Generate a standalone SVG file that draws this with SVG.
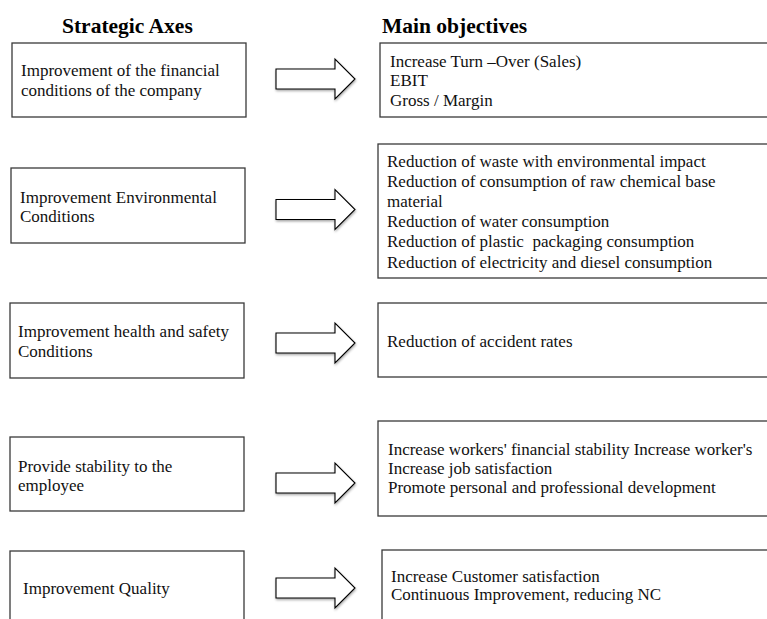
<svg xmlns="http://www.w3.org/2000/svg" width="767" height="619" viewBox="0 0 767 619">
<style>
  .box { fill: #ffffff; stroke: #3a3a3a; stroke-width: 1.3; }
  .t { font-family: "Liberation Serif", "Times New Roman", serif; font-size: 17px; fill: #111; }
  .h { font-family: "Liberation Serif", "Times New Roman", serif; font-size: 21.5px; font-weight: bold; fill: #000; }
  .arr { fill: #ffffff; stroke: #000; stroke-width: 1.1; stroke-linejoin: miter; }
</style>
<defs>
  <filter id="sh" x="-20%" y="-20%" width="140%" height="150%">
    <feDropShadow dx="0.5" dy="1.5" stdDeviation="1" flood-color="#000" flood-opacity="0.35"/>
  </filter>
  <polygon id="arrowShape" points="0,-10 59,-10 59,-20 79,0 59,20 59,10 0,10"/>
</defs>
<rect width="767" height="619" fill="#ffffff"/>

<g id="headers">
  <text class="h" x="62" y="33">Strategic Axes</text>
  <text class="h" x="382" y="33">Main objectives</text>
</g>

<g id="axis1">
  <rect class="box" x="12" y="43" width="234" height="74"/>
  <text class="t" x="21" y="76">Improvement of the financial</text>
  <text class="t" x="21" y="96">conditions of the company</text>
</g>
<g id="obj1">
  <rect class="box" x="380" y="43" width="400" height="74"/>
  <text class="t" x="390" y="67">Increase Turn –Over (Sales)</text>
  <text class="t" x="390" y="86">EBIT</text>
  <text class="t" x="390" y="106">Gross / Margin</text>
</g>

<g id="axis2">
  <rect class="box" x="11" y="168" width="234" height="75"/>
  <text class="t" x="20" y="203">Improvement Environmental</text>
  <text class="t" x="20" y="222">Conditions</text>
</g>
<g id="obj2">
  <rect class="box" x="378" y="144" width="400" height="134"/>
  <text class="t" x="387" y="167">Reduction of waste with environmental impact</text>
  <text class="t" x="387" y="187">Reduction of consumption of raw chemical base</text>
  <text class="t" x="387" y="207">material</text>
  <text class="t" x="387" y="227">Reduction of water consumption</text>
  <text class="t" x="387" y="247" xml:space="preserve">Reduction of plastic  packaging consumption</text>
  <text class="t" x="387" y="268">Reduction of electricity and diesel consumption</text>
</g>

<g id="axis3">
  <rect class="box" x="10" y="303" width="234" height="75"/>
  <text class="t" x="18" y="337">Improvement health and safety</text>
  <text class="t" x="18" y="357">Conditions</text>
</g>
<g id="obj3">
  <rect class="box" x="378" y="303" width="400" height="74"/>
  <text class="t" x="387" y="347">Reduction of accident rates</text>
</g>

<g id="axis4">
  <rect class="box" x="10" y="437" width="234" height="74"/>
  <text class="t" x="18" y="472">Provide stability to the</text>
  <text class="t" x="18" y="491">employee</text>
</g>
<g id="obj4">
  <rect class="box" x="378" y="421" width="400" height="95"/>
  <text class="t" x="388" y="455">Increase workers' financial stability Increase worker's</text>
  <text class="t" x="388" y="474">Increase job satisfaction</text>
  <text class="t" x="388" y="493">Promote personal and professional development</text>
</g>

<g id="axis5">
  <rect class="box" x="10" y="551" width="234" height="90"/>
  <text class="t" x="23" y="594">Improvement Quality</text>
</g>
<g id="obj5">
  <rect class="box" x="382" y="550" width="400" height="90"/>
  <text class="t" x="391" y="582">Increase Customer satisfaction</text>
  <text class="t" x="391" y="600">Continuous Improvement, reducing NC</text>
</g>

<g id="connectors">
  <use href="#arrowShape" class="arr" filter="url(#sh)" transform="translate(276,79)"/>
  <use href="#arrowShape" class="arr" filter="url(#sh)" transform="translate(276,209.5)"/>
  <use href="#arrowShape" class="arr" filter="url(#sh)" transform="translate(276,343)"/>
  <use href="#arrowShape" class="arr" filter="url(#sh)" transform="translate(276,483)"/>
  <use href="#arrowShape" class="arr" filter="url(#sh)" transform="translate(276,588)"/>
</g>
</svg>
